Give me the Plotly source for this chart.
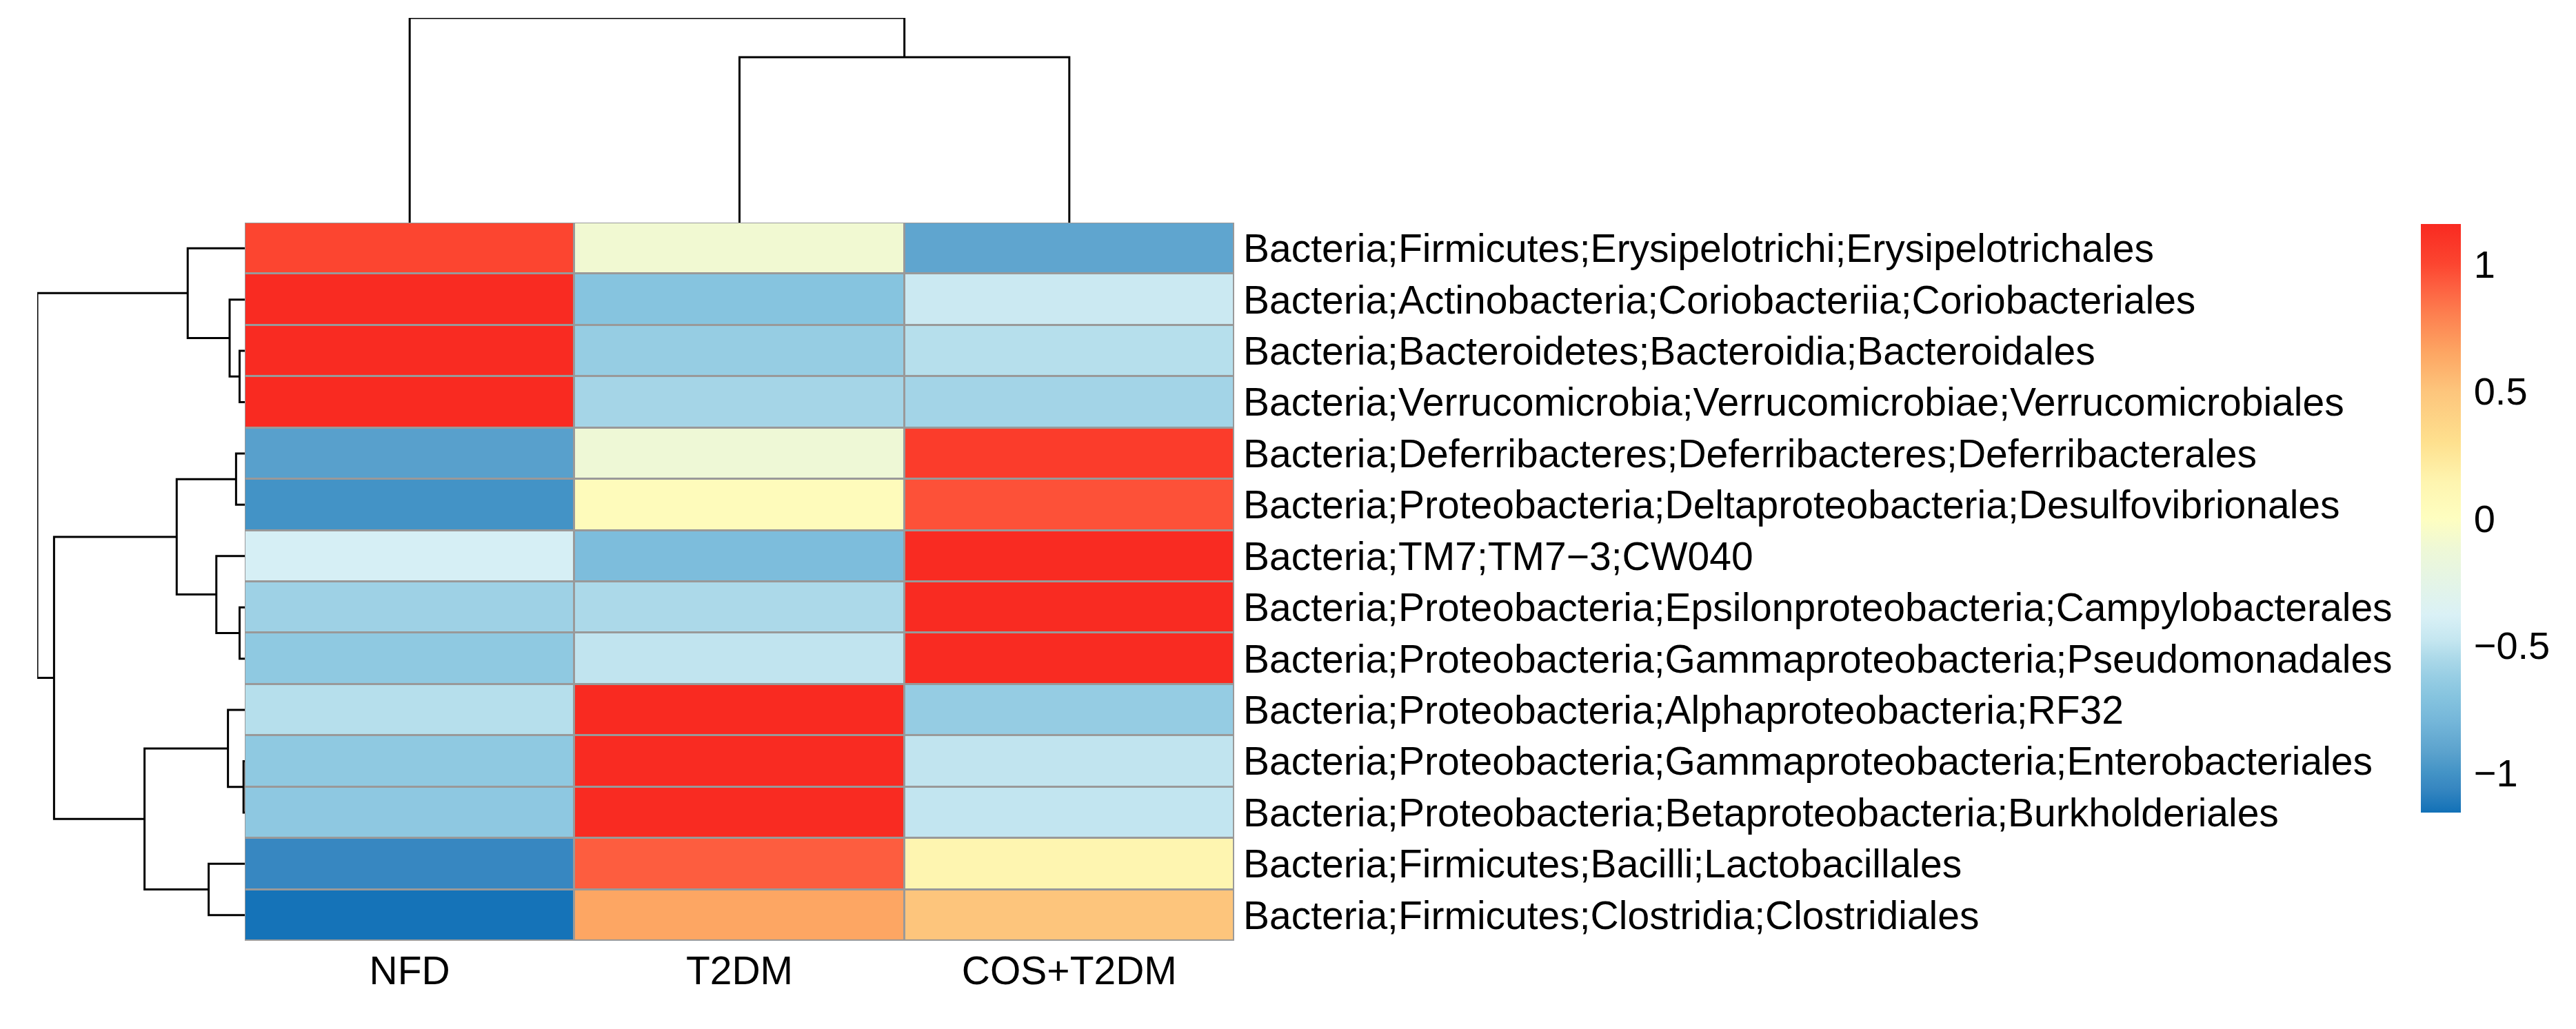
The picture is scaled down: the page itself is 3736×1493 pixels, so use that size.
import plotly.graph_objects as go

# ---------------- data ----------------
samples = ["NFD", "T2DM", "COS+T2DM"]
taxa = [
    "Bacteria;Firmicutes;Erysipelotrichi;Erysipelotrichales",
    "Bacteria;Actinobacteria;Coriobacteriia;Coriobacteriales",
    "Bacteria;Bacteroidetes;Bacteroidia;Bacteroidales",
    "Bacteria;Verrucomicrobia;Verrucomicrobiae;Verrucomicrobiales",
    "Bacteria;Deferribacteres;Deferribacteres;Deferribacterales",
    "Bacteria;Proteobacteria;Deltaproteobacteria;Desulfovibrionales",
    "Bacteria;TM7;TM7\u22123;CW040",
    "Bacteria;Proteobacteria;Epsilonproteobacteria;Campylobacterales",
    "Bacteria;Proteobacteria;Gammaproteobacteria;Pseudomonadales",
    "Bacteria;Proteobacteria;Alphaproteobacteria;RF32",
    "Bacteria;Proteobacteria;Gammaproteobacteria;Enterobacteriales",
    "Bacteria;Proteobacteria;Betaproteobacteria;Burkholderiales",
    "Bacteria;Firmicutes;Bacilli;Lactobacillales",
    "Bacteria;Firmicutes;Clostridia;Clostridiales",
]
nfd  = [1.00, 1.15, 1.15, 1.155, -0.93, -1.00, -0.40, -0.60, -0.66, -0.52, -0.66, -0.665, -1.06, -1.15]
t2dm = [-0.10, -0.70, -0.63, -0.575, -0.12, 0.04, -0.75, -0.55, -0.49, 1.155, 1.15, 1.15, 0.92, 0.65]
cos  = [-0.90, -0.45, -0.52, -0.58, 1.05, 0.96, 1.15, 1.15, 1.15, -0.635, -0.49, -0.485, 0.14, 0.50]

# hierarchical clustering (R hclust convention: negative = leaf number in display order)
row_merge_a = [-11, -3, -8, -5, -2, -10, -7, -13, -1, 4, 6, 10, 9]
row_merge_b = [-12, -4, -9, -6, 2, 1, 3, -14, 5, 7, 8, 11, 12]
row_heights = [0.006, 0.025, 0.025, 0.042, 0.073, 0.081, 0.137, 0.174, 0.275, 0.328, 0.483, 0.919, 1.0]
col_merge_a = [-2, -1]
col_merge_b = [-3, 1]
col_heights = [0.808, 1.0]

tick_vals = [-1, -0.5, 0, 0.5, 1]
zlim = 1.157

# ---------------- helpers ----------------
def dendro_segments(ma, mb, hs):
    pos, hgt = {}, {}
    def info(k):
        if k < 0:
            return -k - 1, 0.0
        return pos[k], hgt[k]
    A, B = [], []
    for i, (a, b, h) in enumerate(zip(ma, mb, hs), start=1):
        pa, ha = info(a)
        pb, hb = info(b)
        A += [pa, pa, pb, pb, None]
        B += [ha, h, h, hb, None]
        pos[i] = (pa + pb) / 2
        hgt[i] = h
    return A, B

W, H = 3736, 1493
hx0, hx1 = 347 / W, 1782 / W
hy0, hy1 = 1 - 1357 / H, 1 - 315 / H
FONT = "Liberation Sans, Arial, sans-serif"

stops = [(-1.157, "#1271B7"), (-1.06, "#3787C1"), (-1.0, "#4393C6"), (-0.92, "#5BA2CD"),
         (-0.8, "#74B6D9"), (-0.7, "#86C4DF"), (-0.62, "#98CEE4"), (-0.55, "#ACD9E9"),
         (-0.48, "#C4E6F0"), (-0.38, "#DAF1F6"), (-0.12, "#EEF8D6"), (0.0, "#FEFEC0"),
         (0.14, "#FEF5B0"), (0.3, "#FEE08E"), (0.5, "#FDC57C"), (0.65, "#FDA663"),
         (0.8, "#FD8050"), (0.92, "#FD5D3F"), (1.0, "#FC4530"), (1.157, "#F92A21")]
colorscale = [[(v + zlim) / (2 * zlim), c] for v, c in stops]

z = [[a, b, c] for a, b, c in zip(nfd, t2dm, cos)]

fig = go.Figure()
fig.add_trace(go.Heatmap(
    z=z, x=list(range(len(samples))), y=list(range(len(taxa))),
    zmin=-zlim, zmax=zlim, colorscale=colorscale, xgap=3, ygap=3,
    hoverinfo="skip",
    colorbar=dict(
        x=3503 / W, xanchor="left", y=1 - 317 / H, yanchor="top",
        thickness=58, len=854, lenmode="pixels", xpad=0, ypad=0,
        outlinewidth=0, tickvals=tick_vals,
        ticktext=[("\u2212" if v < 0 else "") + (f"{abs(v):g}") for v in tick_vals],
        ticks="outside", ticklen=8, tickcolor="rgba(0,0,0,0)",
        tickfont=dict(family=FONT, size=56, color="black"),
    ),
))

# grey cell borders behind heatmap
fig.add_shape(type="rect", xref="x", yref="y", x0=-0.5, x1=len(samples) - 0.5,
              y0=-0.5, y1=len(taxa) - 0.5, fillcolor="#999999",
              line=dict(color="#999999", width=3), layer="below")

# column dendrogram
cx, cy = dendro_segments(col_merge_a, col_merge_b, col_heights)
fig.add_trace(go.Scatter(x=cx, y=cy, mode="lines", xaxis="x2", yaxis="y2",
                         line=dict(color="black", width=3), hoverinfo="skip", showlegend=False))
# row dendrogram
ry, rx = dendro_segments(row_merge_a, row_merge_b, row_heights)
fig.add_trace(go.Scatter(x=rx, y=ry, mode="lines", xaxis="x3", yaxis="y3",
                         line=dict(color="black", width=3), hoverinfo="skip", showlegend=False))

fig.update_layout(
    width=W, height=H, margin=dict(l=0, r=0, t=0, b=0),
    paper_bgcolor="white", plot_bgcolor="white", showlegend=False,
    font=dict(family=FONT, size=57, color="black"),
    xaxis=dict(domain=[hx0, hx1], range=[-0.5, len(samples) - 0.5], tickvals=list(range(len(samples))),
               ticktext=samples, showgrid=False, zeroline=False, showline=False, ticks="",
               ticklabelstandoff=5, tickfont=dict(size=57), anchor="y", fixedrange=True),
    yaxis=dict(domain=[hy0, hy1], range=[len(taxa) - 0.5, -0.5], tickvals=list(range(len(taxa))),
               ticktext=taxa, side="right", showgrid=False, zeroline=False, showline=False, ticks="",
               ticklabelstandoff=12, tickfont=dict(size=57), anchor="x", fixedrange=True),
    xaxis2=dict(domain=[hx0, hx1], range=[-0.5, len(samples) - 0.5], visible=False, anchor="y2"),
    yaxis2=dict(domain=[hy1, 1 - 18 / H], range=[0, 1], visible=False, anchor="x2"),
    xaxis3=dict(domain=[46 / W, hx0], range=[1, 0], visible=False, anchor="y3"),
    yaxis3=dict(domain=[hy0, hy1], range=[len(taxa) - 0.5, -0.5], visible=False, anchor="x3"),
)

fig.write_html("out.html")
